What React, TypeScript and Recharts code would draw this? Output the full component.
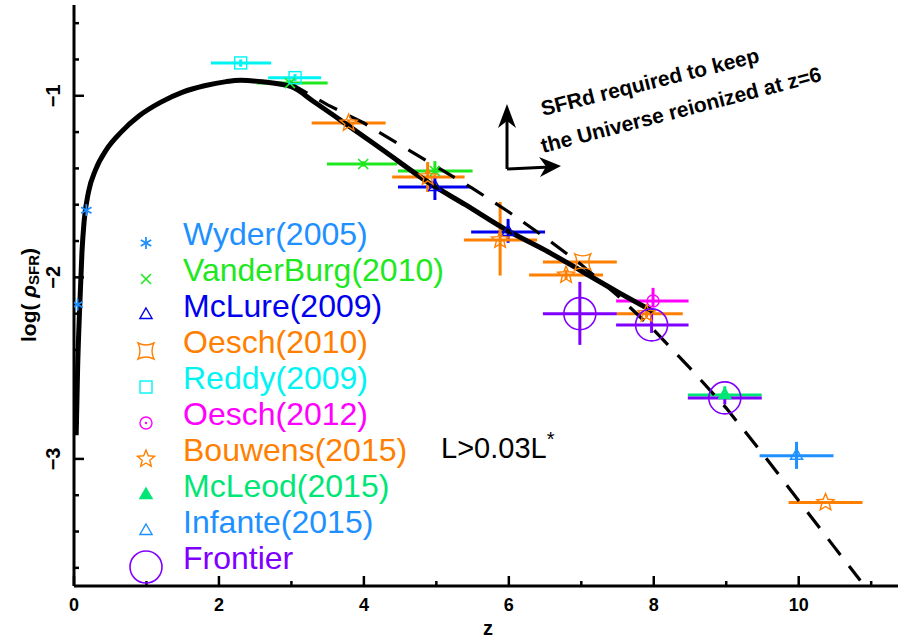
import React from 'react';
import { ComposedChart, Line, Scatter, XAxis, YAxis, ErrorBar } from 'recharts';

const W = 899;
const H = 641;

// model curves: redshift and log SFR density
const fitZ = [0.03, 0.05, 0.08, 0.11, 0.14, 0.2, 0.3, 0.45, 0.65, 0.9, 1.2, 1.5, 1.8, 2.1, 2.3, 2.6, 3.0, 3.3, 3.77, 4.3, 4.9, 5.4, 5.97, 6.5, 7.0, 7.5, 8.0];
const fitLog = [-2.87, -2.5, -2.15, -1.86, -1.69, -1.53, -1.405, -1.295, -1.2, -1.11, -1.035, -0.98, -0.945, -0.922, -0.915, -0.923, -0.95, -1.03, -1.16, -1.31, -1.48, -1.6, -1.74, -1.85, -1.965, -2.08, -2.19];
const reionZ = [2.98, 3.5, 4.0, 4.5, 5.0, 5.5, 6.0, 6.5, 7.0, 7.5, 8.0, 8.5, 9.0, 9.5, 10.0, 10.5, 10.85];
const reionLog = [-0.93, -1.05, -1.15, -1.27, -1.39, -1.51, -1.64, -1.78, -1.93, -2.1, -2.29, -2.5, -2.72, -2.97, -3.23, -3.49, -3.67];

const xTicks = [0, 1, 2, 3, 4, 5, 6, 7, 8, 9, 10, 11];
const xLabelled = [0, 2, 4, 6, 8, 10];
const yTicks = [-3.6, -3.4, -3.2, -3, -2.8, -2.6, -2.4, -2.2, -2, -1.8, -1.6, -1.4, -1.2, -1, -0.8, -0.6];
const yLabelled = [-3, -2, -1];

// observations: x = z, y = log rho; x0/x1 and y0/y1 = error range
const wyder = [
  { x: 0.17, y: -1.63, x0: 0.17, x1: 0.17, y0: -1.63, y1: -1.63 },
  { x: 0.05, y: -2.15, x0: 0.02, x1: 0.08, y0: -2.15, y1: -2.15 },
];
const vanderBurg = [
  { x: 2.98, y: -0.93, x0: 2.52, x1: 3.5, y0: -0.95, y1: -0.91 },
  { x: 3.99, y: -1.376, x0: 3.49, x1: 4.46, y0: -1.39, y1: -1.36 },
  { x: 4.98, y: -1.414, x0: 4.47, x1: 5.5, y0: -1.43, y1: -1.36 },
];
const mcLure = [
  { x: 4.98, y: -1.502, x0: 4.47, x1: 5.46, y0: -1.574, y1: -1.453 },
  { x: 5.99, y: -1.75, x0: 5.48, x1: 6.5, y0: -1.81, y1: -1.678 },
];
const oesch2010 = [
  { x: 7.02, y: -1.915, x0: 6.47, x1: 7.49, y0: -1.915, y1: -1.915 },
];
const reddy = [
  { x: 2.3, y: -0.819, x0: 1.89, x1: 2.72, y0: -0.84, y1: -0.8 },
  { x: 3.05, y: -0.9, x0: 2.68, x1: 3.41, y0: -0.92, y1: -0.88 },
];
const oesch2012 = [
  { x: 7.99, y: -2.13, x0: 7.48, x1: 8.48, y0: -2.163, y1: -2.058 },
];
const bouwens = [
  { x: 3.79, y: -1.15, x0: 3.28, x1: 4.3, y0: -1.17, y1: -1.13 },
  { x: 4.88, y: -1.447, x0: 4.39, x1: 5.39, y0: -1.53, y1: -1.365 },
  { x: 5.88, y: -1.794, x0: 5.38, x1: 6.39, y0: -1.99, y1: -1.585 },
  { x: 6.79, y: -1.987, x0: 6.28, x1: 7.3, y0: -2.01, y1: -1.96 },
  { x: 7.9, y: -2.2, x0: 7.49, x1: 8.4, y0: -2.22, y1: -2.18 },
  { x: 10.37, y: -3.24, x0: 9.86, x1: 10.88, y0: -3.24, y1: -3.24 },
];
const mcLeod = [
  { x: 8.98, y: -2.648, x0: 8.47, x1: 9.49, y0: -2.67, y1: -2.6 },
];
const infante = [
  { x: 9.97, y: -2.983, x0: 9.46, x1: 10.48, y0: -3.055, y1: -2.906 },
];
const frontier = [
  { x: 6.98, y: -2.2, x0: 6.47, x1: 7.49, y0: -2.372, y1: -2.025 },
  { x: 7.97, y: -2.262, x0: 7.48, x1: 8.48, y0: -2.306, y1: -2.19 },
  { x: 8.98, y: -2.664, x0: 8.47, x1: 9.49, y0: -2.7, y1: -2.62 },
];

const series = [
  { name: 'Wyder(2005)', color: '#1e90ff', kind: 'asterisk', data: wyder },
  { name: 'VanderBurg(2010)', color: '#1ee81e', kind: 'cross', data: vanderBurg },
  { name: 'McLure(2009)', color: '#0000ee', kind: 'tri', data: mcLure },
  { name: 'Oesch(2010)', color: '#ff7f00', kind: 'concave', data: oesch2010 },
  { name: 'Reddy(2009)', color: '#00f4f4', kind: 'square', data: reddy },
  { name: 'Oesch(2012)', color: '#ff00ff', kind: 'circdot', data: oesch2012 },
  { name: 'Bouwens(2015)', color: '#ff7f00', kind: 'star', data: bouwens },
  { name: 'McLeod(2015)', color: '#00e676', kind: 'trifill', data: mcLeod },
  { name: 'Infante(2015)', color: '#1e90ff', kind: 'tri', data: infante },
  { name: 'Frontier', color: '#8000ff', kind: 'bigcirc', data: frontier },
];

const fitData = fitZ.map((x, i) => ({ x, y: fitLog[i] }));
const reionData = reionZ.map((x, i) => ({ x, y: reionLog[i] }));

// error offsets in the form ErrorBar expects: [below, above]
const withErrors = (rows: any[]) =>
  rows.map((d) => ({ ...d, ex: [d.x - d.x0, d.x1 - d.x], ey: [d.y - d.y0, d.y1 - d.y] }));

function Mark({ kind, color, cx, cy }: { kind: string; color: string; cx: number; cy: number }) {
  const sw = 1.4;
  if (kind === 'asterisk') {
    const r = 6;
    return (
      <g stroke={color} strokeWidth={1.8}>
        {[0, 60, 120].map((a) => {
          const t = (a * Math.PI) / 180 + Math.PI / 2;
          return <line key={a} x1={cx - r * Math.cos(t)} y1={cy - r * Math.sin(t)} x2={cx + r * Math.cos(t)} y2={cy + r * Math.sin(t)} />;
        })}
      </g>
    );
  }
  if (kind === 'cross') {
    const r = 5;
    return (
      <g stroke={color} strokeWidth={1.6}>
        <line x1={cx - r} y1={cy - r} x2={cx + r} y2={cy + r} />
        <line x1={cx - r} y1={cy + r} x2={cx + r} y2={cy - r} />
      </g>
    );
  }
  if (kind === 'tri' || kind === 'trifill') {
    const r = 7;
    const pts = `${cx},${cy - r} ${cx + r * 0.87},${cy + r * 0.5} ${cx - r * 0.87},${cy + r * 0.5}`;
    return <polygon points={pts} fill={kind === 'trifill' ? color : 'none'} stroke={color} strokeWidth={sw} />;
  }
  if (kind === 'concave') {
    const s = 8;
    const d = `M ${cx - s} ${cy - s} Q ${cx} ${cy - s + 4} ${cx + s} ${cy - s} Q ${cx + s - 4} ${cy} ${cx + s} ${cy + s} Q ${cx} ${cy + s - 4} ${cx - s} ${cy + s} Q ${cx - s + 4} ${cy} ${cx - s} ${cy - s} Z`;
    return <path d={d} fill="none" stroke={color} strokeWidth={sw} />;
  }
  if (kind === 'square') {
    return <rect x={cx - 6} y={cy - 6} width={12} height={12} fill="none" stroke={color} strokeWidth={sw} />;
  }
  if (kind === 'circdot') {
    return (
      <g>
        <circle cx={cx} cy={cy} r={6} fill="none" stroke={color} strokeWidth={sw} />
        <circle cx={cx} cy={cy} r={1.2} fill={color} />
      </g>
    );
  }
  if (kind === 'star') {
    const pts: string[] = [];
    for (let i = 0; i < 10; i++) {
      const r = i % 2 === 0 ? 9 : 4;
      const a = -Math.PI / 2 + (i * Math.PI) / 5;
      pts.push(`${cx + r * Math.cos(a)},${cy + r * Math.sin(a)}`);
    }
    return <polygon points={pts.join(' ')} fill="none" stroke={color} strokeWidth={sw} />;
  }
  return <circle cx={cx} cy={cy} r={16} fill="none" stroke={color} strokeWidth={1.6} />;
}

const tickFont = { fontFamily: 'Liberation Sans, Arial, sans-serif', fontWeight: 700 };

function BottomTick(p: any) {
  const v = p.payload.value;
  const major = xLabelled.includes(v);
  return (
    <g>
      <line x1={p.x} y1={p.y} x2={p.x} y2={p.y - (major ? 10 : 5)} stroke="#000" strokeWidth={2.5} />
      {major && (
        <text x={p.x} y={p.y + 25} textAnchor="middle" fontSize={18} {...tickFont} fill="#000">{v}</text>
      )}
    </g>
  );
}

function TopTick(p: any) {
  const major = xLabelled.includes(p.payload.value);
  return <line x1={p.x} y1={p.y} x2={p.x} y2={p.y + (major ? 10 : 5)} stroke="#000" strokeWidth={2.5} />;
}

function LeftTick(p: any) {
  const v = p.payload.value;
  const major = yLabelled.includes(v);
  const tx = p.x - 21;
  return (
    <g>
      <line x1={p.x} y1={p.y} x2={p.x + (major ? 10 : 5)} y2={p.y} stroke="#000" strokeWidth={2.5} />
      {major && (
        <text x={tx} y={p.y} transform={`rotate(-90 ${tx} ${p.y})`} textAnchor="middle" dominantBaseline="central" fontSize={20} {...tickFont} fill="#000">
          {'\u2212' + Math.abs(v)}
        </text>
      )}
    </g>
  );
}

function RightTick(p: any) {
  const major = yLabelled.includes(p.payload.value);
  return <line x1={p.x} y1={p.y} x2={p.x - (major ? 10 : 5)} y2={p.y} stroke="#000" strokeWidth={2.5} />;
}

const axisLine = { stroke: '#000', strokeWidth: 3 };
const sans = 'Liberation Sans, Arial, sans-serif';

export default function App() {
  return (
    <div style={{ position: 'absolute', left: 0, top: 0, width: W, height: H, background: '#fff' }}>
      <ComposedChart width={W} height={H} margin={{ top: 5, right: 1, left: 0, bottom: 0 }}>
        <XAxis dataKey="x" type="number" domain={[0, 11.37]} allowDataOverflow ticks={xTicks} interval={0}
          height={55} tickSize={0} tickMargin={0} axisLine={axisLine} tick={<BottomTick />} />
        <XAxis xAxisId="top" orientation="top" type="number" domain={[0, 11.37]} allowDataOverflow ticks={xTicks} interval={0}
          height={0} tickSize={0} tickMargin={0} axisLine={axisLine} tick={<TopTick />} />
        <YAxis dataKey="y" type="number" domain={[-3.7, -0.5]} allowDataOverflow ticks={yTicks} interval={0}
          width={74} tickSize={0} tickMargin={0} axisLine={axisLine} tick={<LeftTick />} />
        <YAxis yAxisId="right" orientation="right" type="number" domain={[-3.7, -0.5]} allowDataOverflow ticks={yTicks} interval={0}
          width={0} tickSize={0} tickMargin={0} axisLine={axisLine} tick={<RightTick />} />
        {series.map((s) => (
          <Scatter key={s.name} data={withErrors(s.data)} fill={s.color} isAnimationActive={false}
            shape={(p: any) => <Mark kind={s.kind} color={s.color} cx={p.cx} cy={p.cy} />}>
            <ErrorBar direction="x" dataKey="ex" width={0} stroke={s.color} strokeWidth={3} isAnimationActive={false} />
            <ErrorBar direction="y" dataKey="ey" width={0} stroke={s.color} strokeWidth={3} isAnimationActive={false} />
          </Scatter>
        ))}
        <Line data={reionData} dataKey="y" type="linear" stroke="#000" strokeWidth={3.2} strokeDasharray="20 14" dot={false} isAnimationActive={false} />
        <Line data={fitData} dataKey="y" type="monotone" stroke="#000" strokeWidth={5} dot={false} isAnimationActive={false} />
      </ComposedChart>
      <svg width={W} height={H} style={{ position: 'absolute', left: 0, top: 0, pointerEvents: 'none' }}>
        {series.map((s, i) => (
          <g key={s.name}>
            <Mark kind={s.kind} color={s.color} cx={146} cy={243 + i * 36} />
            <text x={183} y={245 + i * 36} fill={s.color} fontSize={32} fontFamily={sans}>{s.name}</text>
          </g>
        ))}
        <text x={441} y={458} fontSize={29} fontFamily={sans} fill="#000">
          L&gt;0.03L<tspan dy={-12} fontSize={20}>*</tspan>
        </text>
        <g fontFamily={sans} fontWeight={700} fontSize={21} fill="#000">
          <text x={543} y={116} transform="rotate(-14 543 116)">SFRd required to keep</text>
          <text x={543} y={153} transform="rotate(-14.5 543 153)">the Universe reionized at z=6</text>
        </g>
        <g stroke="#000" strokeWidth={3} fill="none">
          <line x1={507} y1={169} x2={507} y2={115} />
          <line x1={507} y1={169} x2={550} y2={167} />
        </g>
        <polygon points="507,104 498,128 507,121 516,128" fill="#000" />
        <polygon points="561,166 539,157 546,166.6 540,177" fill="#000" />
        <text x={28} y={295} transform="rotate(-90 28 295)" textAnchor="middle" dominantBaseline="central"
          fontSize={21} fontFamily={sans} fontWeight={700} fill="#000">
          log( <tspan fontStyle="italic">ρ</tspan><tspan dy={5} fontSize={15}>SFR</tspan><tspan dy={-5}>)</tspan>
        </text>
        <text x={488} y={635} textAnchor="middle" fontSize={20} fontFamily={sans} fontWeight={700} fill="#000">z</text>
      </svg>
    </div>
  );
}
